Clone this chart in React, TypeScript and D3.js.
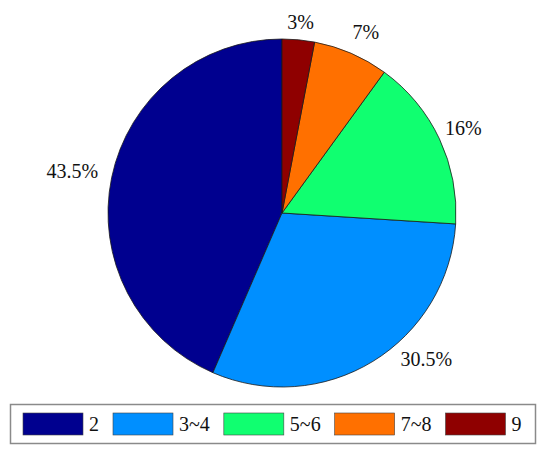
import React, { useEffect, useRef } from "react";
import * as d3 from "d3";

const categories = ["2", "3~4", "5~6", "7~8", "9"];
const values = [43.5, 30.5, 16, 7, 3];
const labels = ["43.5%", "30.5%", "16%", "7%", "3%"];
const colors = ["#00008F", "#008FFF", "#10FF70", "#FF7000", "#8F0000"];

const W = 550;
const H = 458;
const FONT = "'Liberation Serif', 'Times New Roman', serif";

export default function App() {
  const ref = useRef<SVGSVGElement | null>(null);

  useEffect(() => {
    const svg = d3.select(ref.current);
    svg.selectAll("*").remove();

    const cx = 282;
    const cy = 213;
    const R = 174;

    const pie = d3
      .pie<number>()
      .sort(null)
      .startAngle(0)
      .endAngle(-2 * Math.PI)
      .value((d) => d);
    const arcs = pie(values);
    const arc = d3.arc<d3.PieArcDatum<number>>().innerRadius(0).outerRadius(R);

    const g = svg.append("g").attr("transform", `translate(${cx},${cy})`);
    g.selectAll("path.slice")
      .data(arcs)
      .enter()
      .append("path")
      .attr("class", "slice")
      .attr("d", arc as any)
      .attr("fill", (_, i) => colors[i])
      .attr("stroke", "#1a1a1a")
      .attr("stroke-width", 0.8)
      .attr("stroke-linejoin", "round");

    // labels
    const labelR = R * 1.065;
    const nudge: Record<number, [number, number]> = {
      0: [-3, -3],
      1: [34, -18],
      2: [-3, -3],
      3: [5, -5],
    };
    arcs.forEach((a, i) => {
      const mid = (a.startAngle + a.endAngle) / 2;
      const sx = Math.sin(mid);
      const cyv = -Math.cos(mid);
      const t = g
        .append("text")
        .text(labels[i])
        .attr("font-family", FONT)
        .attr("font-size", 20)
        .attr("fill", "#111")
        .attr("text-anchor", "middle")
        .attr("dominant-baseline", "central");
      const w = (t.node() as SVGTextElement).getComputedTextLength();
      const h = 14;
      const [dx, dy] = nudge[i] || [0, 0];
      const x = labelR * sx + (sx * w) / 2 + dx;
      const y = labelR * cyv + (cyv * h) / 2 + dy;
      t.attr("x", x).attr("y", y);
    });

    // legend
    const lg = svg.append("g");
    lg.append("rect")
      .attr("x", 10.5)
      .attr("y", 404.5)
      .attr("width", 525)
      .attr("height", 39)
      .attr("fill", "#fff")
      .attr("stroke", "#8a8a8a")
      .attr("stroke-width", 1.5);
    let x = 23;
    categories.forEach((c, i) => {
      lg.append("rect")
        .attr("x", x)
        .attr("y", 413)
        .attr("width", 60)
        .attr("height", 22)
        .attr("fill", colors[i])
        .attr("stroke", "#444")
        .attr("stroke-width", 0.6);
      const t = lg
        .append("text")
        .text(c)
        .attr("x", x + 66)
        .attr("y", 424)
        .attr("font-family", FONT)
        .attr("font-size", 20)
        .attr("fill", "#111")
        .attr("dominant-baseline", "central");
      const w = (t.node() as SVGTextElement).getComputedTextLength();
      x = x + 66 + w + 14;
    });
  }, []);

  return (
    <svg
      ref={ref}
      width={W}
      height={H}
      style={{ position: "absolute", left: 0, top: 0, background: "#fff" }}
    />
  );
}
